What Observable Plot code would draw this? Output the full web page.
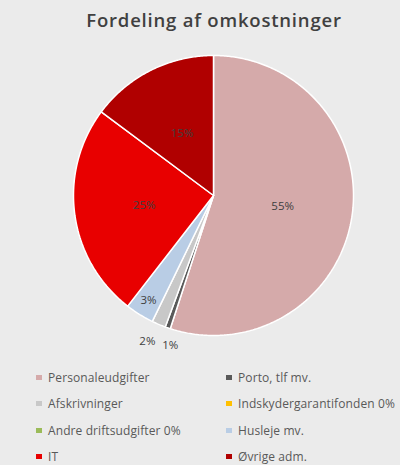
<!DOCTYPE html>
<html>
<head>
<meta charset="utf-8">
<script src="https://cdn.jsdelivr.net/npm/d3@7"></script>
<script src="https://cdn.jsdelivr.net/npm/@observablehq/plot@0.6"></script>
<style>
  html, body { margin: 0; padding: 0; background: #ebebeb; }
  body { width: 400px; height: 465px; overflow: hidden; font-family: "Open Sans", sans-serif; }
  #title { height: 38px; box-sizing: border-box; padding-top: 7px; padding-left: 28px; text-align: center; font-size: 18.5px; font-weight: 600; color: #404040; letter-spacing: 0.8px; }
  #chart svg { display: block; }
  #legend { display: grid; grid-template-columns: 190px 180px; padding-left: 36px; row-gap: 0; margin-top: 6px; }
  .item { height: 26.5px; display: flex; align-items: center; font-size: 12px; color: #595959; white-space: nowrap; letter-spacing: 0.1px; }
  .sw { width: 6px; height: 5px; margin-right: 6px; flex: none; }
</style>
</head>
<body>
<div id="title">Fordeling af omkostninger</div>
<div id="chart"></div>
<div id="legend"></div>
<script>
// Categories and values (percent of total)
const categories = ["Personaleudgifter", "Porto, tlf mv.", "Afskrivninger", "Indskydergarantifonden 0%", "Andre driftsudgifter 0%", "Husleje mv.", "IT", "Øvrige adm."];
const legendLabels = ["Personaleudgifter", "Porto, tlf mv.", "Afskrivninger", "Indskydergarantifonden 0%", "Andre driftsudgifter 0%", "Husleje mv.", "IT", "Øvrige adm."];
const values = [55.0, 0.6, 1.6, 0, 0, 3.3, 24.7, 14.8];
const colors = ["#d5aaaa", "#595959", "#c8c8c8", "#ffc000", "#9bbb59", "#b9cde5", "#e80000", "#b00000"];

const data = categories.map((c, i) => ({name: c, value: values[i]}));
const total = d3.sum(values);
const pie = d3.pie().value(d => d.value).sort(null)(data);

// Build polygon outlines for each slice (unit circle, clockwise from top)
const pts = [];
pie.forEach(s => {
  if (s.endAngle - s.startAngle <= 0) return;
  const n = Math.max(2, Math.ceil((s.endAngle - s.startAngle) / 0.01));
  pts.push({name: s.data.name, x: 0, y: 0});
  for (let k = 0; k <= n; k++) {
    const a = s.startAngle + (s.endAngle - s.startAngle) * k / n;
    pts.push({name: s.data.name, x: Math.sin(a), y: Math.cos(a)});
  }
  pts.push({name: s.data.name, x: 0, y: 0});
});

// Label positions
const labels = pie.filter(s => s.data.value > 0).map(s => {
  const pct = s.data.value / total * 100;
  const mid = (s.startAngle + s.endAngle) / 2;
  const r = pct >= 10 ? 0.5 : pct >= 3 ? 0.88 : 1.13;
  return {text: Math.round(pct) + "%", x: r * Math.sin(mid) + (pct < 1 ? 0.06 : 0) + (pct >= 1 && pct < 3 ? -0.03 : 0), y: r * Math.cos(mid)};
});

const chart = Plot.plot({
  width: 400,
  height: 320,
  marginLeft: 73,
  marginRight: 47,
  marginTop: 17,
  marginBottom: 23,
  x: {domain: [-1, 1], axis: null},
  y: {domain: [-1, 1], axis: null},
  color: {domain: categories, range: colors},
  style: {background: "transparent"},
  marks: [
    Plot.line(pts, {x: "x", y: "y", z: "name", fill: "name", stroke: "white", strokeWidth: 1.5, strokeLinejoin: "miter", curve: "linear"}),
    Plot.text(labels, {x: "x", y: "y", text: "text", fill: "#404040", fontSize: 11.5, fontFamily: "Open Sans, sans-serif"})
  ]
});
document.getElementById("chart").appendChild(chart);

// Legend
const legend = document.getElementById("legend");
legendLabels.forEach((l, i) => {
  const d = document.createElement("div");
  d.className = "item";
  d.innerHTML = `<span class="sw" style="background:${colors[i]}"></span><span></span>`;
  d.lastChild.textContent = l;
  legend.appendChild(d);
});
</script>
</body>
</html>
